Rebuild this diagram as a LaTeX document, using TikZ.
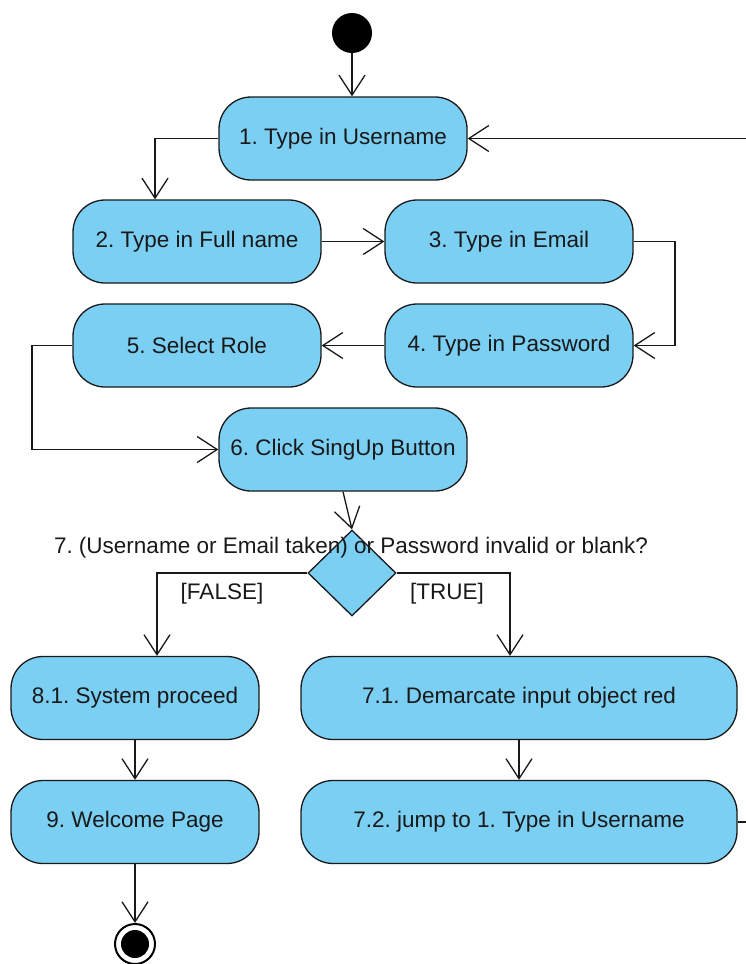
\documentclass[tikz,border=0pt]{standalone}
\usepackage{fontspec}
\setmainfont{Liberation Sans}
\usetikzlibrary{arrows.meta,shapes.geometric}
\definecolor{actblue}{RGB}{122,207,243}
\definecolor{inkline}{RGB}{25,25,25}
\frenchspacing
\tikzset{
  actbox/.style={draw=inkline, line width=1.3pt, fill=actblue, rounded corners=32pt,
    minimum width=248pt, minimum height=83pt, inner sep=0pt,
    font=\fontsize{22.5}{26}\selectfont, text=inkline},
  widebox/.style={actbox, minimum width=436pt},
  decision/.style={diamond, draw=inkline, line width=1.3pt, fill=actblue,
    minimum width=88pt, minimum height=86pt, inner sep=0pt, aspect=1},
  flow/.style={draw=inkline, line width=1.3pt,
    -{Straight Barb[length=20pt,width=26pt,line width=1.3pt]}},
  lbl/.style={font=\fontsize{22.5}{26}\selectfont, text=inkline, inner sep=0pt},
}
\begin{document}
\begin{tikzpicture}[x=1pt,y=-1pt]
  \useasboundingbox (0,0) rectangle (746,964);
  \clip (0,0) rectangle (746,964);

  % start and end
  \node[circle, fill=black, minimum size=40pt, inner sep=0pt] (start) at (352,33) {};
  \node[circle, draw=black, line width=2pt, fill=white, minimum size=40pt, inner sep=0pt] (stop) at (135,944) {};
  \fill[black] (stop.center) circle (14pt);

  % actions
  \node[actbox] (n1) at (343,138.5) {1. Type in Username};
  \node[actbox] (n2) at (197,241.5) {2. Type in Full name};
  \node[actbox] (n3) at (509,241.5) {3. Type in Email};
  \node[actbox] (n4) at (509,345.5) {4. Type in Password};
  \node[actbox] (n5) at (197,345.5) {5. Select Role};
  \node[actbox] (n6) at (343,449.5) {6. Click SingUp Button};
  \node[decision] (d7) at (352,573) {};
  \node[actbox] (n81) at (135,698) {8.1. System proceed};
  \node[widebox] (n71) at (519,698) {7.1. Demarcate input object red};
  \node[actbox] (n9) at (135,822) {9. Welcome Page};
  \node[widebox] (n72) at (519,822) {7.2. jump to 1. Type in Username};

  % decision texts
  \node[lbl] (q7) at (351,548) {7. (Username or Email taken) or Password invalid or blank?};
  \node[lbl] (gf) at (222,594) {[FALSE]};
  \node[lbl] (gt) at (447,594) {[TRUE]};

  % routing points
  \coordinate (c12) at (155,138.5);
  \coordinate (c34) at (675,241.5);
  \coordinate (c56) at (32,345.5);
  \coordinate (cf) at (157,573);
  \coordinate (ct) at (510,573);
  \coordinate (cloop) at (780,822);

  % connectors
  \draw[flow] (start) -- (start |- n1.north);
  \draw[flow] (n1.west) -- (c12) -- (c12 |- n2.north);
  \draw[flow] (n2) -- (n3);
  \draw[flow] (n3.east) -- (c34) |- (n4.east);
  \draw[flow] (n4) -- (n5);
  \draw[flow] (n5.west) -- (c56) |- (n6.west);
  \draw[flow] (n6.south) -- (d7.north);
  \draw[flow] (d7.west) -- (cf) -- (cf |- n81.north);
  \draw[flow] (d7.east) -- (ct) -- (ct |- n71.north);
  \draw[flow] (n81) -- (n9);
  \draw[flow] (n71) -- (n72);
  \draw[flow] (n9) -- (stop);
  \draw[flow] (n72.east) -- (cloop) |- (n1.east);
\end{tikzpicture}
\end{document}
